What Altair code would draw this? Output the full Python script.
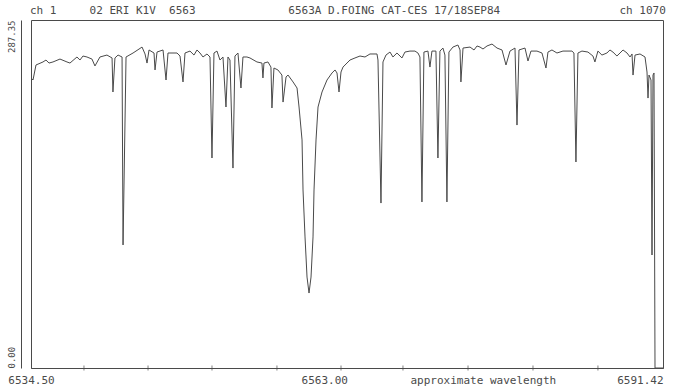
import altair as alt
import pandas as pd

# Spectrum of 02 ERI (K1V) around H-alpha, channel 1 .. 1070
wavelength = [
    6534.50, 6534.68, 6534.95, 6535.58, 6535.85, 6536.12, 6536.48, 6537.11, 6537.74, 6538.01,
    6538.64, 6538.91, 6539.18, 6539.54, 6539.99, 6540.26, 6540.71, 6541.34, 6541.80, 6541.88,
    6542.06, 6542.34, 6542.70, 6542.79, 6543.06, 6543.69, 6544.50, 6544.77, 6544.95, 6545.13,
    6545.58, 6545.67, 6545.85, 6546.39, 6546.66, 6546.84, 6547.65, 6547.92, 6548.19, 6548.37,
    6548.82, 6549.18, 6549.45, 6549.72, 6549.99, 6550.35, 6550.62, 6550.80, 6550.98, 6551.25,
    6551.52, 6551.79, 6552.06, 6552.24, 6552.42, 6552.69, 6552.87, 6553.14, 6553.41, 6553.59,
    6553.95, 6554.22, 6554.85, 6555.30, 6555.39, 6555.48, 6555.84, 6556.11, 6556.20, 6556.38,
    6556.74, 6557.10, 6557.20, 6557.47, 6557.65, 6558.10, 6558.46, 6558.64, 6558.91, 6559.00,
    6559.18, 6559.36, 6559.54, 6559.72, 6559.90, 6559.99, 6560.17, 6560.35, 6560.71, 6561.16,
    6561.61, 6561.88, 6562.06, 6562.24, 6562.42, 6562.60, 6563.23, 6563.68, 6564.13, 6564.58,
    6565.03, 6565.66, 6565.75, 6566.02, 6566.20, 6566.47, 6566.83, 6567.10, 6567.46, 6567.91,
    6568.18, 6568.63, 6569.08, 6569.35, 6569.53, 6569.71, 6569.89, 6570.25, 6570.43, 6570.61,
    6570.97, 6571.15, 6571.33, 6571.60, 6571.78, 6571.96, 6572.14, 6572.50, 6572.95, 6573.14,
    6573.22, 6573.41, 6574.04, 6574.40, 6574.67, 6574.94, 6575.21, 6575.57, 6576.02, 6576.47,
    6576.92, 6577.28, 6577.64, 6578.09, 6578.27, 6578.45, 6578.99, 6579.26, 6579.53, 6580.07,
    6580.52, 6580.88, 6581.06, 6581.42, 6581.87, 6582.41, 6583.22, 6583.40, 6583.58, 6583.76,
    6584.12, 6584.66, 6585.11, 6585.29, 6585.56, 6585.92, 6586.37, 6586.64, 6586.91, 6587.27,
    6587.55, 6587.82, 6588.18, 6588.45, 6588.63, 6588.72, 6588.90, 6589.35, 6589.80, 6589.98,
    6590.07, 6590.16, 6590.34, 6590.43, 6590.52, 6590.61, 6590.70, 6591.42,
]
flux = [
    239.5, 237.8, 250.2, 252.7, 254.3, 251.8, 252.7, 255.1, 252.7, 251.8,
    256.8, 254.3, 257.6, 256.8, 255.1, 249.4, 256.8, 258.4, 256.0, 227.9,
    256.0, 258.4, 256.8, 101.6, 256.8, 260.1, 265.0, 259.3, 251.8, 262.6,
    260.1, 246.1, 260.9, 262.6, 237.8, 260.1, 260.1, 257.6, 236.2, 260.1,
    261.7, 258.4, 262.6, 260.1, 256.8, 259.3, 256.8, 173.4, 260.1, 261.7,
    254.3, 256.8, 215.5, 256.8, 254.3, 165.1, 257.6, 260.1, 231.2, 256.8,
    256.8, 256.0, 252.7, 251.8, 239.5, 251.8, 252.7, 248.5, 214.7, 247.7,
    246.1, 241.9, 219.6, 240.3, 241.9, 236.2, 231.2, 215.5, 188.3, 147.0,
    108.2, 75.1, 61.9, 75.1, 108.2, 147.0, 188.3, 215.5, 227.9, 237.8,
    243.6, 246.1, 243.6, 227.9, 244.4, 248.5, 254.3, 256.0, 257.6, 256.8,
    259.3, 259.3, 254.3, 136.2, 252.7, 258.4, 260.9, 256.8, 260.1, 256.0,
    260.9, 261.7, 261.7, 260.1, 256.8, 137.1, 260.9, 261.7, 248.5, 261.7,
    261.7, 173.4, 261.7, 264.2, 258.4, 137.1, 260.9, 265.0, 266.7, 262.6,
    236.2, 264.2, 265.0, 262.6, 265.9, 265.0, 263.4, 265.9, 267.5, 264.2,
    262.6, 250.2, 261.7, 264.2, 200.6, 262.6, 264.2, 253.5, 261.7, 261.7,
    260.1, 247.7, 260.9, 262.6, 260.1, 261.7, 261.7, 260.1, 170.1, 260.1,
    261.7, 260.9, 257.6, 252.7, 261.7, 258.4, 260.1, 262.6, 260.9, 257.6,
    260.1, 262.6, 260.1, 256.8, 259.3, 241.9, 258.4, 259.3, 256.8, 244.4,
    222.9, 241.9, 237.8, 93.3, 241.9, 243.6, 0.0, 0.0,
]

# Minor tick positions along the wavelength axis
tick_wavelengths = [6539.27, 6545.04, 6550.80, 6556.65, 6562.42, 6568.00, 6573.86, 6579.71, 6585.56]
# Labelled axis values
label_wavelengths = [6534.50, 6563.00, 6591.42]
flux_labels = [0.0, 287.35]

# Header line of the plot; non-breaking spaces keep the column layout
NBSP = "\u00a0"
header = ("ch 1" + NBSP * 5 + "02 ERI K1V" + NBSP * 2 + "6563" + NBSP * 14 +
          "6563A D.FOING CAT-CES 17/18SEP84" + NBSP * 18 + "ch 1070").replace(" ", NBSP)

FONT = "DejaVu Sans Mono"
INK = "#4a4a4a"

spec = pd.DataFrame({"wavelength": wavelength, "flux": flux, "order": list(range(len(wavelength)))})
ticks = pd.DataFrame({"wavelength": tick_wavelengths})

x_scale = alt.Scale(domain=[6534.50, 6591.42], nice=False, zero=False)
y_scale = alt.Scale(domain=[0, 287.35], nice=False, zero=False)

line = alt.Chart(spec).mark_line(color=INK, strokeWidth=1, clip=True).encode(
    x=alt.X(
        "wavelength:Q",
        scale=x_scale,
        axis=alt.Axis(
            values=label_wavelengths,
            labelExpr="format(datum.value, '.2f')",
            ticks=False,
            grid=False,
            domainColor=INK,
            labelFont=FONT,
            labelFontSize=11,
            labelColor=INK,
            labelPadding=6,
            labelFlush=False,
            labelOverlap=False,
            labelAlign={"condition": {"test": "datum.value < 6540", "value": "center"}, "value": "right"},
            title="approximate wavelength",
            titleFont=FONT,
            titleFontSize=11,
            titleFontWeight="normal",
            titleColor=INK,
            titleX=379,
            titleY=6,
            titleAlign="left",
            titleBaseline="top",
        ),
    ),
    y=alt.Y(
        "flux:Q",
        scale=y_scale,
        axis=alt.Axis(
            values=flux_labels,
            labelExpr="format(datum.value, '.2f')",
            ticks=False,
            grid=False,
            offset=10,
            domainColor=INK,
            labelAngle=270,
            labelAlign={"condition": {"test": "datum.value == 0", "value": "left"}, "value": "right"},
            labelBaseline="bottom",
            labelPadding=5,
            labelFlush=False,
            labelOverlap=False,
            labelFont=FONT,
            labelFontSize=9,
            labelColor=INK,
            title=None,
        ),
    ),
    order="order:Q",
)

tick_marks = alt.Chart(ticks).mark_tick(color=INK, size=5, thickness=1, orient="vertical").encode(
    x=alt.X("wavelength:Q", scale=x_scale),
    y=alt.datum(0),
)

chart = alt.layer(line, tick_marks).properties(
    width=632,
    height=348,
    autosize="none",
    padding={"left": 31, "top": 20, "right": 16, "bottom": 22},
    title=alt.TitleParams(
        text=header,
        font=FONT,
        fontSize=11,
        fontWeight="normal",
        color=INK,
        anchor="start",
        frame="group",
        offset=4,
        dx=-1,
    ),
).configure_view(stroke=INK, strokeWidth=1)

chart.save("out.html", embed_options={"renderer": "svg", "actions": False})
